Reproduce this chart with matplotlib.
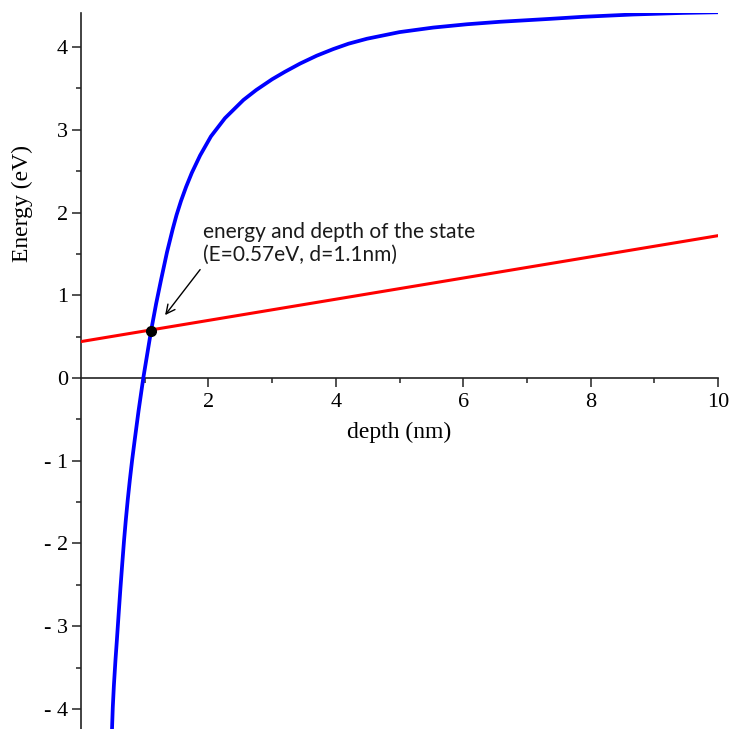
import matplotlib
matplotlib.use("Agg")
import matplotlib.pyplot as plt

# energy of the state vs. depth (blue) and the straight line it is matched against (red)
depth = [0.487, 0.499, 0.516, 0.541, 0.563, 0.592, 0.620, 0.648, 0.676, 0.703,
         0.734, 0.767, 0.803, 0.843, 0.903, 0.978, 1.10, 1.18, 1.256, 1.35,
         1.44, 1.50, 1.57, 1.65, 1.74, 1.87, 2.04, 2.26, 2.55, 2.75,
         3.00, 3.20, 3.44, 3.70, 3.96, 4.20, 4.49, 5.00, 5.53, 6.06,
         6.58, 7.05, 7.36, 7.88, 8.67, 9.45, 10.0]
energy = [-4.24, -3.98, -3.72, -3.41, -3.17, -2.84, -2.53, -2.24, -1.96, -1.72,
          -1.47, -1.23, -0.99, -0.75, -0.40, 0.00, 0.57, 0.90, 1.184, 1.52,
          1.80, 1.97, 2.14, 2.31, 2.48, 2.69, 2.92, 3.14, 3.36, 3.48,
          3.61, 3.70, 3.80, 3.895, 3.975, 4.04, 4.10, 4.18, 4.235, 4.275,
          4.305, 4.326, 4.340, 4.365, 4.393, 4.412, 4.42]
line_depth = [0, 10]
line_energy = [0.44, 1.72]
state_d, state_E = 1.1, 0.57

xticks = [2, 4, 6, 8, 10]
xlabels = ["2", "4", "6", "8", "10"]
yticks = [-4, -3, -2, -1, 0, 1, 2, 3, 4]
ylabels = ["- 4", "- 3", "- 2", "- 1", "0", "1", "2", "3", "4"]

serif = "Liberation Serif"
fig = plt.figure(figsize=(7.32, 7.29), dpi=100)
ax = fig.add_axes([81 / 732, 0, 637 / 732, 716 / 729])
ax.set_xlim(0, 10)
ax.set_ylim(-4.242, 4.411)

ax.plot(line_depth, line_energy, color="#ff0000", lw=2.2, zorder=3)
ax.plot(depth, energy, color="#0000ff", lw=2.7, zorder=4,
        solid_joinstyle="round")
ax.plot([state_d], [state_E], "o", color="black", ms=7, zorder=5)

# note and arrow pointing at the crossing
ax.text(1.915, 1.625, "energy and depth of the state\n(E=0.57eV, d=1.1nm)",
        fontsize=15, family="Lato", color="#1a1a1a", linespacing=1.2,
        ha="left", va="center", zorder=6)
ax.annotate("", xy=(1.32, 0.76), xytext=(1.87, 1.31),
            arrowprops=dict(arrowstyle="->", color="black", lw=1.0,
                            shrinkA=0, shrinkB=0, mutation_scale=16),
            zorder=6)

for s in ("top", "right"):
    ax.spines[s].set_visible(False)
ax.spines["bottom"].set_position(("data", 0))
for s in ("left", "bottom"):
    ax.spines[s].set_color("#222222")
    ax.spines[s].set_linewidth(1.2)

ax.set_xticks(xticks)
ax.set_xticklabels(xlabels, family=serif, fontsize=16)
ax.set_xticks([1, 3, 5, 7, 9], minor=True)
ax.set_yticks(yticks)
ax.set_yticklabels(ylabels, family=serif, fontsize=16)
ax.set_yticks([-3.5, -2.5, -1.5, -0.5, 0.5, 1.5, 2.5, 3.5], minor=True)
ax.tick_params(which="major", direction="out", length=6.5, width=1.1, color="#222222", pad=3)
ax.tick_params(which="minor", direction="out", length=3.5, width=1.1, color="#222222")
ax.tick_params(axis="x", which="major", pad=4)

ax.set_xlabel("depth (nm)", family=serif, fontsize=17)
ax.xaxis.set_label_coords(0.5, 0.4137)
ax.xaxis.label.set_va("center")
ax.set_ylabel("Energy (eV)", family=serif, fontsize=17)
ax.yaxis.set_label_coords(-0.092, 0.734)
ax.yaxis.label.set_va("center")

fig.savefig("out.png", dpi=100)
